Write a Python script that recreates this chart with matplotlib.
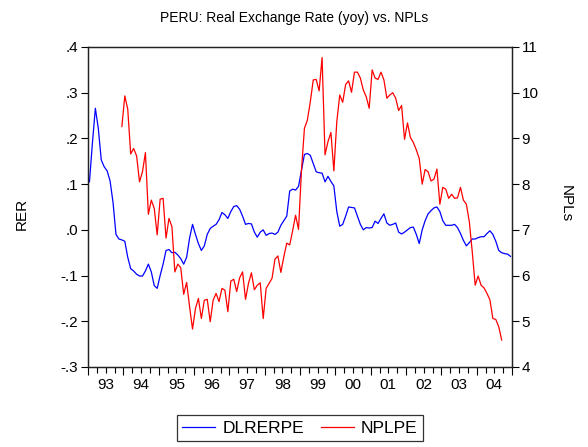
import numpy as np
import matplotlib
matplotlib.use('Agg')
import matplotlib.pyplot as plt
from matplotlib.ticker import FixedLocator, FuncFormatter

plt.rcParams['font.family'] = ['Liberation Sans', 'DejaVu Sans']

nan = np.nan
years = list(range(1993, 2005))
year_labels = ['93', '94', '95', '96', '97', '98', '99', '00', '01', '02', '03', '04']

# DLRERPE (left axis), monthly 1993:01 - 2004:12
dlrerpe = [
    .105, .19, .266, .222, .153, .138, .129, .107, .06, -.01, -.02, -.022,
    -.025, -.06, -.085, -.09, -.097, -.101, -.101, -.09, -.075, -.092, -.122, -.128,
    -.1, -.075, -.045, -.043, -.05, -.049, -.055, -.063, -.075, -.06, -.018, .012,
    -.01, -.03, -.045, -.035, -.01, .003, .008, .012, .022, .038, .033, .025,
    .04, .051, .053, .045, .03, .012, .014, .013, -.005, -.016, -.005, 0.0,
    -.012, -.008, -.007, -.01, -.005, .01, .02, .03, .085, .089, .087, .095,
    .13, .165, .167, .163, .145, .127, .125, .124, .105, .117, .106, .096,
    .04, .008, .012, .03, .05, .049, .048, .03, .012, .0, .005, .004,
    .005, .019, .014, .025, .035, .015, .01, .012, .015, -.005, -.009, -.005,
    0.0, .005, .006, -.01, -.03, .0, .02, .035, .042, .048, .05, .04,
    .02, .01, .01, .01, .012, .005, -.008, -.023, -.035, -.028, -.02, -.02,
    -.017, -.015, -.015, -.008, -.002, -.01, -.025, -.045, -.05, -.052, -.053, -.058,
]

# NPLPE (right axis), monthly 1993:01 - 2004:12
nplpe = [
    nan, nan, nan, nan, nan, nan, nan, nan, nan, nan, nan, 9.26,
    9.93, 9.64, 8.66, 8.78, 8.62, 8.05, 8.27, 8.69, 7.34, 7.65, 7.47, 6.89,
    7.67, 7.69, 6.82, 7.25, 7.07, 6.08, 6.25, 6.17, 5.59, 5.85, 5.32, 4.83,
    5.28, 5.5, 5.06, 5.46, 5.48, 4.99, 5.46, 5.61, 5.43, 5.72, 5.68, 5.21,
    5.88, 5.92, 5.65, 5.95, 6.08, 5.48, 5.83, 6.06, 5.69, 5.79, 5.84, 5.06,
    5.72, 5.83, 5.94, 6.36, 6.43, 6.07, 6.41, 6.71, 6.67, 6.98, 7.32, 7.01,
    8.3, 9.22, 9.4, 9.8, 10.28, 10.29, 10.04, 10.77, 8.64, 8.93, 9.13, 8.29,
    9.37, 9.95, 9.79, 10.18, 10.26, 10.01, 10.45, 10.45, 10.32, 10.06, 9.91, 9.66,
    10.5, 10.32, 10.29, 10.45, 10.28, 9.88, 9.95, 10.0, 9.88, 9.61, 9.72, 8.98,
    9.34, 9.02, 8.91, 8.75, 8.56, 8.0, 8.32, 8.27, 8.07, 8.11, 8.33, 7.56,
    7.93, 7.89, 7.69, 7.78, 7.69, 7.7, 7.93, 7.65, 7.56, 7.18, 6.52, 5.79,
    5.99, 5.79, 5.73, 5.61, 5.47, 5.06, 5.04, 4.88, 4.59, nan, nan, nan,
]

left_ticks = [-0.3, -0.2, -0.1, 0.0, 0.1, 0.2, 0.3, 0.4]
right_ticks = [4, 5, 6, 7, 8, 9, 10, 11]

t = 1993 + (np.arange(len(dlrerpe)) + 0.5) / 12.0

W, H = 588, 447
fig = plt.figure(figsize=(W / 100, H / 100), dpi=100)
ax = fig.add_axes([88 / W, (H - 367) / H, 424 / W, 320 / H])
ax2 = ax.twinx()

l1, = ax.plot(t, dlrerpe, color='#0000ff', lw=0.9, label='DLRERPE')
l2, = ax2.plot(t, nplpe, color='#ff0000', lw=0.9, label='NPLPE')

ax.set_xlim(1993, 2005)
ax.set_ylim(-0.3, 0.4)
ax2.set_ylim(4, 11)

def fmt_left(v, pos):
    s = f"{v:.1f}"
    s = s.replace("0.", ".")
    return s

ax.yaxis.set_major_locator(FixedLocator(left_ticks))
ax.yaxis.set_major_formatter(FuncFormatter(fmt_left))
ax2.yaxis.set_major_locator(FixedLocator(right_ticks))

ax.xaxis.set_major_locator(FixedLocator(years + [2005]))
ax.xaxis.set_minor_locator(FixedLocator([y + q / 4 for y in years for q in (1, 2, 3)]))
ax.set_xticklabels([])
ax.tick_params(axis='x', which='major', length=6, width=0.8, direction='out', color='black')
ax.tick_params(axis='x', which='minor', length=4, width=0.8, direction='out', color='black')
ax.tick_params(axis='y', length=5, width=0.8, direction='out', labelsize=11, pad=2)
ax2.tick_params(axis='y', length=5, width=0.8, direction='out', labelsize=11, pad=2)

for yr, lab in zip(years, year_labels):
    ax.text(yr + 0.5, -0.035, lab, transform=ax.get_xaxis_transform(),
            ha='center', va='top', fontsize=11)

for a in (ax, ax2):
    for sp in a.spines.values():
        sp.set_linewidth(0.9)
        sp.set_color('#222222')

fig.text(294 / W, 1 - 18 / H, 'PERU: Real Exchange Rate (yoy) vs. NPLs',
         ha='center', va='center', fontsize=10)
fig.text(22 / W, 1 - 214 / H, 'RER', rotation=90, ha='center', va='center', fontsize=11)
fig.text(566 / W, 1 - 204 / H, 'NPLs', rotation=270, ha='center', va='center', fontsize=11)

leg = fig.legend(handles=[l1, l2], loc='center', bbox_to_anchor=(300 / W, 1 - 428 / H),
                 ncol=2, frameon=True, fancybox=False, fontsize=12.5,
                 handlelength=1.9, columnspacing=1.0, borderpad=0.3, handletextpad=0.4)
leg.get_frame().set_edgecolor('black')
leg.get_frame().set_linewidth(0.9)

fig.savefig('out.png', dpi=100)
